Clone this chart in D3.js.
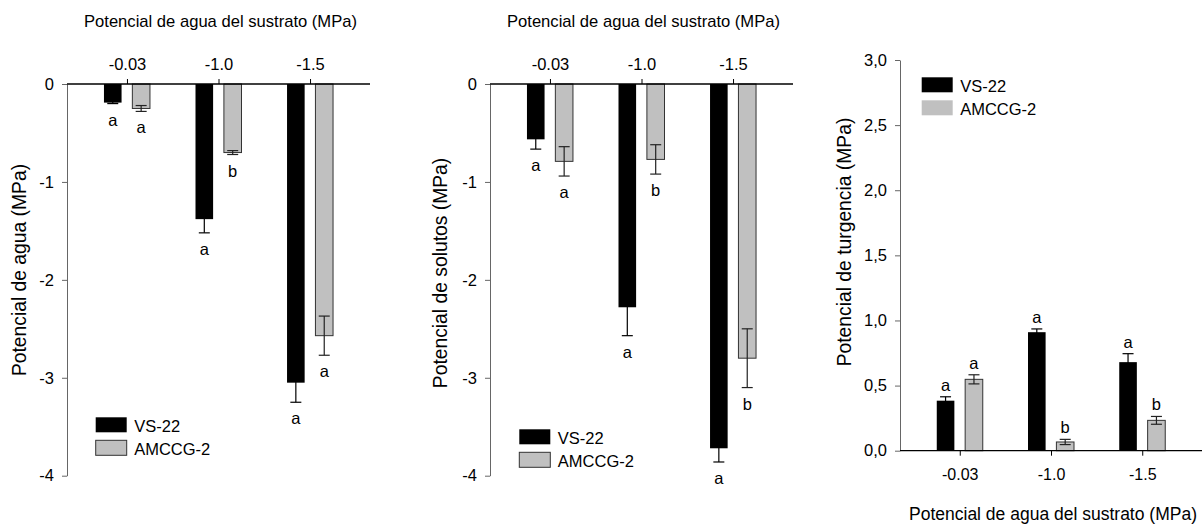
<!DOCTYPE html>
<html>
<head>
<meta charset="utf-8">
<script src="https://cdn.jsdelivr.net/npm/d3@7"></script>
<style>
  body { margin: 0; background: #fff; }
  svg { display: block; }
  text { font-family: "Liberation Sans", Arial, sans-serif; }
</style>
</head>
<body>
<svg id="chart" width="1204" height="528"></svg>
<script>
// Data
const categories = ["-0.03", "-1.0", "-1.5"];
const series = ["VS-22", "AMCCG-2"];

// Potencial de agua (MPa)
const aguaVS = [-0.19, -1.38, -3.05];
const aguaVSErr = [0.01, 0.14, 0.20];
const aguaAM = [-0.25, -0.70, -2.57];
const aguaAMErr = [0.03, 0.02, 0.20];
const aguaVSLetters = ["a", "a", "a"];
const aguaAMLetters = ["a", "b", "a"];

// Potencial de solutos (MPa)
const solVS = [-0.565, -2.28, -3.72];
const solVSErr = [0.10, 0.29, 0.14];
const solAM = [-0.79, -0.77, -2.80];
const solAMErr = [0.15, 0.15, 0.30];
const solVSLetters = ["a", "a", "a"];
const solAMLetters = ["a", "b", "b"];

// Potencial de turgencia (MPa)
const turVS = [0.384, 0.91, 0.68];
const turVSErr = [0.03, 0.025, 0.065];
const turAM = [0.548, 0.067, 0.233];
const turAMErr = [0.035, 0.02, 0.03];
const turVSLetters = ["a", "a", "a"];
const turAMLetters = ["a", "b", "b"];

const negTicks = [0, -1, -2, -3, -4];
const posTicks = [0, 0.5, 1.0, 1.5, 2.0, 2.5, 3.0];

const xTitle = "Potencial de agua del sustrato (MPa)";
const fills = ["#000000", "#c0c0c0"];
const errColors = ["#000000", "#222222"];

const svg = d3.select("#chart");

function drawPanel(p) {
  const g = svg.append("g");

  const x = d3.scalePoint()
    .domain(categories)
    .range([p.left, p.right])
    .padding(0.655);

  const xs = d3.scaleBand()
    .domain(series)
    .range([-23, 23])
    .paddingInner(0.38);

  const y = d3.scaleLinear()
    .domain(p.domain)
    .range(p.range);

  const rows = [];
  categories.forEach((c, i) => {
    rows.push({cat: c, s: series[0], v: p.vs[i], e: p.vsErr[i], l: p.vsLet[i], k: 0});
    rows.push({cat: c, s: series[1], v: p.am[i], e: p.amErr[i], l: p.amLet[i], k: 1});
  });

  // y axis
  const yAxis = d3.axisLeft(y)
    .tickValues(p.ticks)
    .tickSize(5)
    .tickSizeOuter(0)
    .tickPadding(8)
    .tickFormat(p.fmt);

  const yg = g.append("g")
    .attr("transform", "translate(" + p.left + ",0)")
    .call(yAxis);
  yg.selectAll("path, line").attr("stroke", "#666");
  yg.selectAll("text")
    .attr("font-size", 16.5)
    .attr("font-family", "Liberation Sans, Arial, sans-serif")
    .attr("fill", "#000");

  // bars
  g.selectAll("rect.bar")
    .data(rows)
    .enter()
    .append("rect")
    .attr("class", "bar")
    .attr("x", d => x(d.cat) + xs(d.s))
    .attr("width", xs.bandwidth())
    .attr("y", d => Math.min(y(0), y(d.v)))
    .attr("height", d => Math.abs(y(d.v) - y(0)))
    .attr("fill", d => fills[d.k])
    .attr("stroke", d => d.k === 1 ? "#333" : "none")
    .attr("stroke-width", 1);

  // error bars
  const cx = d => x(d.cat) + xs(d.s) + xs.bandwidth() / 2;
  const err = g.selectAll("g.err")
    .data(rows)
    .enter()
    .append("g")
    .attr("class", "err")
    .attr("stroke", d => errColors[d.k])
    .attr("stroke-width", 1.2);
  err.append("line")
    .attr("x1", cx).attr("x2", cx)
    .attr("y1", d => y(d.v - d.e)).attr("y2", d => y(d.v + d.e));
  err.append("line")
    .attr("x1", d => cx(d) - 5.5).attr("x2", d => cx(d) + 5.5)
    .attr("y1", d => y(d.v - d.e)).attr("y2", d => y(d.v - d.e));
  err.append("line")
    .attr("x1", d => cx(d) - 5.5).attr("x2", d => cx(d) + 5.5)
    .attr("y1", d => y(d.v + d.e)).attr("y2", d => y(d.v + d.e));

  // letters
  g.selectAll("text.letter")
    .data(rows)
    .enter()
    .append("text")
    .attr("class", "letter")
    .attr("x", cx)
    .attr("y", d => d.v < 0 ? y(d.v - d.e) + 22 : y(d.v + d.e) - 6)
    .attr("text-anchor", "middle")
    .attr("font-size", 16.5)
    .text(d => d.l);

  // x axis
  const xAxis = (p.top ? d3.axisTop(x) : d3.axisBottom(x))
    .tickSize(5)
    .tickSizeOuter(0)
    .tickPadding(p.top ? 9 : 13);

  const xg = g.append("g")
    .attr("transform", "translate(0," + y(0) + ")")
    .call(xAxis);
  xg.select("path.domain")
    .attr("d", "M" + p.left + ",0H" + p.right)
    .attr("stroke", "#000")
    .attr("stroke-width", 1.3);
  xg.selectAll("line").attr("stroke", "#000");
  xg.selectAll("text")
    .attr("font-size", p.tickSize)
    .attr("font-family", "Liberation Sans, Arial, sans-serif")
    .attr("fill", "#000");

  // x title
  g.append("text")
    .attr("x", x(categories[1]) + 2)
    .attr("y", p.titleY)
    .attr("text-anchor", "middle")
    .attr("font-size", p.titleSize)
    .text(xTitle);

  // y title
  g.append("text")
    .attr("transform", "translate(" + p.yLabelX + "," + p.yLabelY + ") rotate(-90)")
    .attr("text-anchor", "middle")
    .attr("font-size", 19.3)
    .text(p.yLabel);

  // legend
  const leg = g.selectAll("g.leg")
    .data(series)
    .enter()
    .append("g")
    .attr("class", "leg")
    .attr("transform", (d, i) => "translate(" + p.legX + "," + (p.legY + i * 23) + ")");
  leg.append("rect")
    .attr("width", 31)
    .attr("height", 15)
    .attr("fill", (d, i) => fills[i])
    .attr("stroke", (d, i) => (i === 1 && p.legBorder) ? "#333" : "none");
  leg.append("text")
    .attr("x", 38.5)
    .attr("y", 14.4)
    .attr("font-size", 16.5)
    .text(d => d);
}

const fmtInt = d => String(d);
const fmtComma = v => v.toFixed(1).replace(".", ",");

drawPanel({
  left: 67, right: 370, domain: [0, -4], range: [84, 475.7], ticks: negTicks, fmt: fmtInt,
  vs: aguaVS, vsErr: aguaVSErr, am: aguaAM, amErr: aguaAMErr, vsLet: aguaVSLetters, amLet: aguaAMLetters,
  top: true, tickSize: 16.5, titleY: 26.7, titleSize: 16.6,
  yLabel: "Potencial de agua (MPa)", yLabelX: 26, yLabelY: 270,
  legX: 95.7, legY: 417.3, legBorder: true
});

drawPanel({
  left: 490, right: 793, domain: [0, -4], range: [84, 475.7], ticks: negTicks, fmt: fmtInt,
  vs: solVS, vsErr: solVSErr, am: solAM, amErr: solAMErr, vsLet: solVSLetters, amLet: solAMLetters,
  top: true, tickSize: 16.5, titleY: 26.7, titleSize: 16.6,
  yLabel: "Potencial de solutos (MPa)", yLabelX: 447, yLabelY: 273,
  legX: 519.3, legY: 429.3, legBorder: true
});

drawPanel({
  left: 900, right: 1202, domain: [0, 3], range: [450.7, 60], ticks: posTicks, fmt: fmtComma,
  vs: turVS, vsErr: turVSErr, am: turAM, amErr: turAMErr, vsLet: turVSLetters, amLet: turAMLetters,
  top: false, tickSize: 16, titleY: 520, titleSize: 17.5,
  yLabel: "Potencial de turgencia (MPa)", yLabelX: 851, yLabelY: 242,
  legX: 921.7, legY: 77.3, legBorder: false
});
</script>
</body>
</html>
